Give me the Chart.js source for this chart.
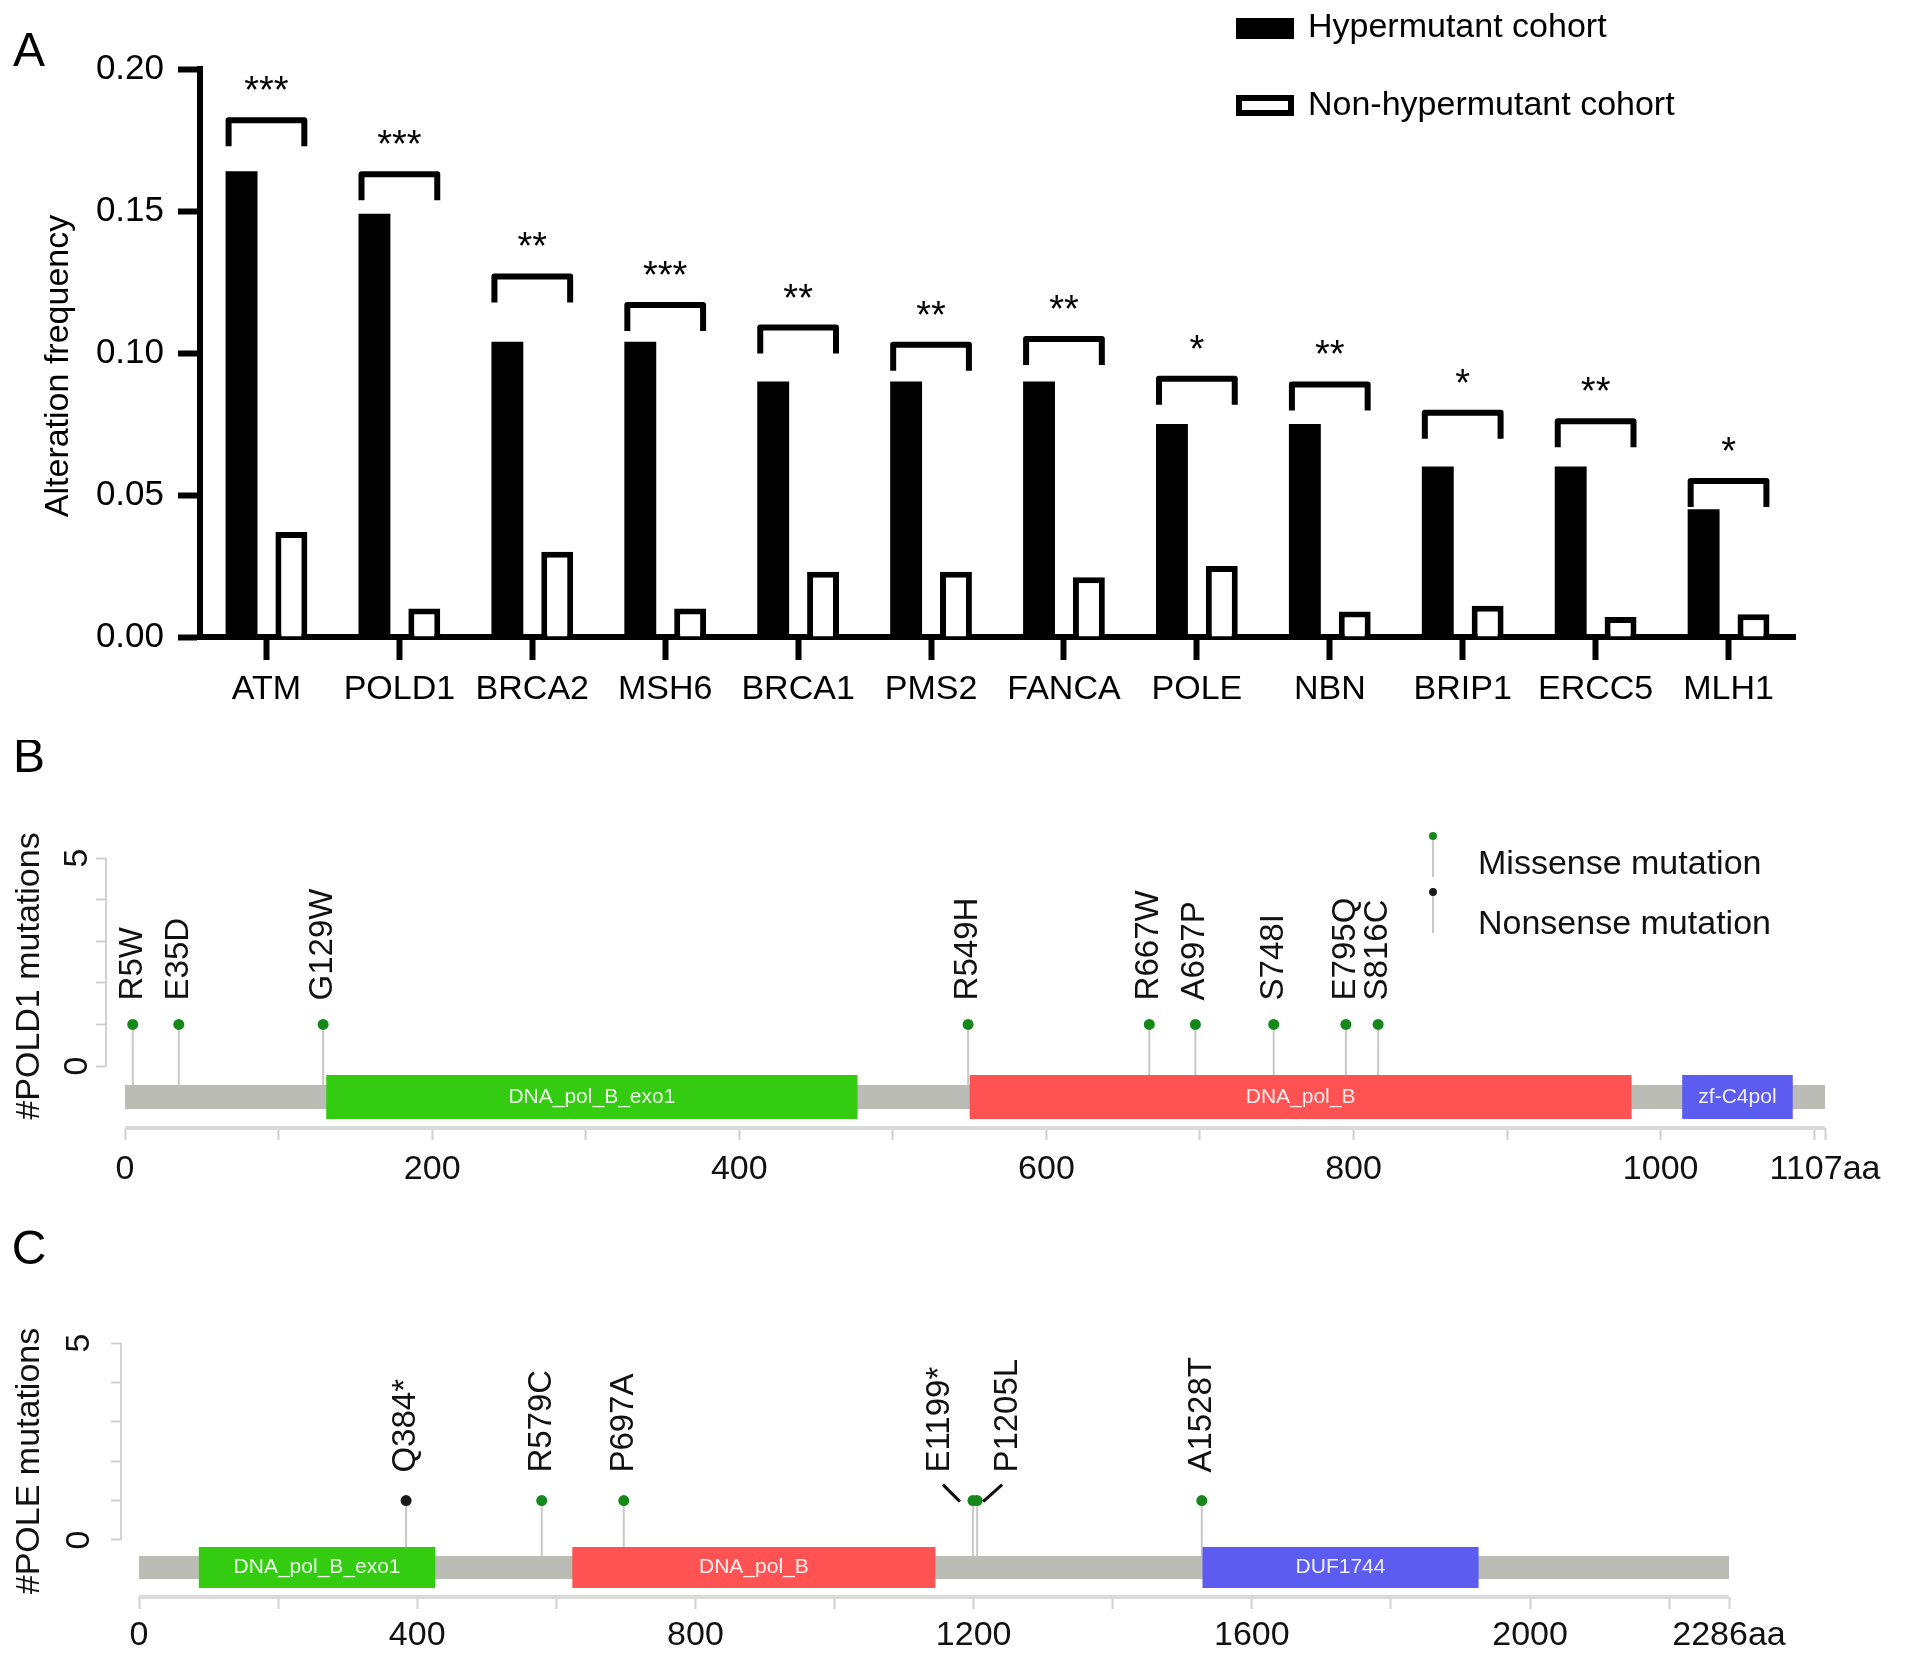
<!DOCTYPE html>
<html>
<head>
<meta charset="utf-8">
<script src="https://cdn.jsdelivr.net/npm/chart.js@4.4.0/dist/chart.umd.min.js"></script>
<style>
html,body{margin:0;padding:0;background:#fff;}
body{width:1913px;height:1660px;position:relative;overflow:hidden;}
.panel{position:absolute;left:0;width:1913px;}
</style>
</head>
<body>
<div class="panel" style="top:0;height:740px"><canvas id="cA"></canvas></div>
<div class="panel" style="top:740px;height:480px"><canvas id="cB"></canvas></div>
<div class="panel" style="top:1220px;height:440px"><canvas id="cC"></canvas></div>
<script>
// ---------- Panel A data ----------
const genes = ['ATM','POLD1','BRCA2','MSH6','BRCA1','PMS2','FANCA','POLE','NBN','BRIP1','ERCC5','MLH1'];
const hyperFreq = [0.164,0.149,0.104,0.104,0.090,0.090,0.090,0.075,0.075,0.060,0.060,0.045];
const nonHyperFreq = [0.037,0.010,0.030,0.010,0.023,0.023,0.021,0.025,0.009,0.011,0.007,0.008];
const sigLevel = ['***','***','**','***','**','**','**','*','**','*','**','*'];
const bracketHeight = [0.183,0.164,0.128,0.118,0.110,0.104,0.106,0.092,0.090,0.080,0.077,0.056];
const seriesNames = ['Hypermutant cohort','Non-hypermutant cohort'];
const yTitleA = 'Alteration frequency';

// ---------- Panel B data (POLD1) ----------
const pold1Length = 1107;
const pold1Mutations = ['R5W','E35D','G129W','R549H','R667W','A697P','S748I','E795Q','S816C'];
const pold1Positions = [5,35,129,549,667,697,748,795,816];
const pold1Counts = [1,1,1,1,1,1,1,1,1];
const pold1Types = ['missense','missense','missense','missense','missense','missense','missense','missense','missense'];
const pold1Domains = ['DNA_pol_B_exo1','DNA_pol_B','zf-C4pol'];
const pold1DomainStart = [131,550,1014];
const pold1DomainEnd = [477,981,1086];
const pold1XTicks = [0,100,200,300,400,500,600,700,800,900,1000,1100,1107];

// ---------- Panel C data (POLE) ----------
const poleLength = 2286;
const poleMutations = ['Q384*','R579C','P697A','E1199*','P1205L','A1528T'];
const polePositions = [384,579,697,1199,1205,1528];
const poleCounts = [1,1,1,1,1,1];
const poleTypes = ['nonsense','missense','missense','missense','missense','missense'];
const poleDomains = ['DNA_pol_B_exo1','DNA_pol_B','DUF1744'];
const poleDomainStart = [86,623,1529];
const poleDomainEnd = [426,1145,1926];
const poleXTicks = [0,200,400,600,800,1000,1200,1400,1600,1800,2000,2200,2286];

const yTicksLollipop = [0,1,2,3,4,5];

const FONT = '"Liberation Sans", Arial, Helvetica, sans-serif';
const typeColor = {missense:'#15881a', nonsense:'#1a1a1a'};
const domainColor = {'DNA_pol_B_exo1':'#33cc11','DNA_pol_B':'#ff5252','zf-C4pol':'#5c5cf0','DUF1744':'#5c5cf0'};

Chart.defaults.font.family = FONT;

function rotatedText(ctx, text, x, y){
  ctx.save();
  ctx.translate(x, y); ctx.rotate(-Math.PI/2);
  ctx.textAlign = 'center'; ctx.textBaseline = 'middle';
  ctx.fillText(text, 0, 0);
  ctx.restore();
}

// ---------- Panel A ----------
const panelAPlugin = {
  id:'panelA',
  afterDraw(chart){
    const {ctx, scales:{y:ys}} = chart;
    const m0 = chart.getDatasetMeta(0).data, m1 = chart.getDatasetMeta(1).data;
    ctx.save();
    ctx.strokeStyle = '#000'; ctx.fillStyle = '#000';
    ctx.lineWidth = 6; ctx.lineJoin = 'round'; ctx.lineCap = 'butt';
    genes.forEach((g,i)=>{
      const x1 = m0[i].x - m0[i].width/2 + 3;
      const x2 = m1[i].x + m1[i].width/2 - 3;
      const y = ys.getPixelForValue(bracketHeight[i]) + 3;
      ctx.beginPath();
      ctx.moveTo(x1, y+26); ctx.lineTo(x1, y); ctx.lineTo(x2, y); ctx.lineTo(x2, y+26);
      ctx.stroke();
      ctx.font = '38px ' + FONT;
      ctx.textAlign = 'center'; ctx.textBaseline = 'alphabetic';
      ctx.fillText(sigLevel[i], (x1+x2)/2, y - 17);
    });
    // y axis title
    ctx.font = '34px ' + FONT;
    rotatedText(ctx, yTitleA, 59, 366);
    // legend
    ctx.textAlign = 'left'; ctx.textBaseline = 'middle';
    ctx.fillRect(1236, 18, 58, 21);
    ctx.fillText(seriesNames[0], 1308, 28);
    ctx.lineWidth = 6; ctx.lineJoin = 'miter';
    ctx.strokeRect(1239, 98, 52, 15);
    ctx.fillText(seriesNames[1], 1308, 106);
    // panel letter
    ctx.font = '48px ' + FONT;
    ctx.textAlign = 'center';
    ctx.fillText('A', 29, 53);
    ctx.restore();
  }
};

new Chart(document.getElementById('cA'), {
  type:'bar',
  data:{
    labels: genes,
    datasets:[
      {label:seriesNames[0], data:hyperFreq, backgroundColor:'#000', borderWidth:0, categoryPercentage:0.75, barPercentage:0.64},
      {label:seriesNames[1], data:nonHyperFreq, backgroundColor:'#fff', borderColor:'#000', borderWidth:6, categoryPercentage:0.75, barPercentage:0.64}
    ]
  },
  options:{
    responsive:true, maintainAspectRatio:false, animation:false, devicePixelRatio:1, events:[],
    layout:{padding:{top:69, right:118, left:0, bottom:0}},
    plugins:{legend:{display:false}, tooltip:{enabled:false}},
    scales:{
      x:{
        z:1, offset:true,
        grid:{display:true, drawOnChartArea:false, drawTicks:true, tickLength:23, tickWidth:6, tickColor:'#000', offset:false},
        border:{display:true, width:6, color:'#000'},
        ticks:{font:{family:FONT, size:34}, color:'#000', padding:9, autoSkip:false, maxRotation:0, minRotation:0},
        afterFit(s){ s.height = 103; }
      },
      y:{
        min:0, max:0.2,
        ticks:{stepSize:0.05, callback:v=>Number(v).toFixed(2), font:{family:FONT, size:35}, color:'#000', padding:14},
        grid:{display:true, drawOnChartArea:false, drawTicks:true, tickLength:22, tickWidth:6, tickColor:'#000'},
        border:{display:true, width:6, color:'#000'},
        title:{display:false},
        afterFit(s){ s.width = 200; }
      }
    }
  },
  plugins:[panelAPlugin]
});

// ---------- Lollipop panels ----------
function lollipop(id, cfg){
  const pts = cfg.positions.map((p,i)=>({x:p, y:cfg.counts[i]}));
  const colors = cfg.types.map(t=>typeColor[t]);
  const plugin = {
    id:'lollipop_'+id,
    beforeDatasetsDraw(chart){
      const {ctx, chartArea:ca, scales:{x:xs, y:ys}} = chart;
      const y0 = ys.getPixelForValue(0);
      const xa = xs.getPixelForValue(0), xb = xs.getPixelForValue(cfg.length);
      ctx.save();
      ctx.strokeStyle = '#d2d2d2'; ctx.lineWidth = 2;
      ctx.beginPath();
      ctx.moveTo(ca.left, ys.getPixelForValue(0)); ctx.lineTo(ca.left, ys.getPixelForValue(5));
      ctx.stroke();
      ctx.strokeStyle = '#dadada'; ctx.lineWidth = 4;
      ctx.beginPath(); ctx.moveTo(xa, ca.bottom); ctx.lineTo(xb, ca.bottom); ctx.stroke();
      ctx.strokeStyle = '#c8c8c8'; ctx.lineWidth = 2;
      cfg.positions.forEach((p,i)=>{
        const x = xs.getPixelForValue(p);
        ctx.beginPath();
        ctx.moveTo(x, ys.getPixelForValue(cfg.counts[i]));
        ctx.lineTo(x, y0 + cfg.bar[0] + 1);
        ctx.stroke();
      });
      ctx.fillStyle = '#bcbcb6';
      ctx.fillRect(xa, y0 + cfg.bar[0], xb - xa, cfg.bar[1]);
      cfg.domains.forEach((d,i)=>{
        const x1 = xs.getPixelForValue(cfg.dStart[i]), x2 = xs.getPixelForValue(cfg.dEnd[i]);
        ctx.fillStyle = domainColor[d];
        ctx.fillRect(x1, y0 + cfg.dom[0], x2 - x1, cfg.dom[1]);
        ctx.fillStyle = 'rgba(255,255,255,0.9)';
        ctx.font = '21px ' + FONT;
        ctx.textAlign = 'center'; ctx.textBaseline = 'middle';
        ctx.fillText(d, (x1+x2)/2, y0 + cfg.dom[0] + cfg.dom[1]/2);
      });
      ctx.restore();
    },
    afterDatasetsDraw(chart){
      const {ctx, chartArea:ca, scales:{x:xs, y:ys}} = chart;
      ctx.save();
      ctx.fillStyle = '#111';
      ctx.font = '33px ' + FONT;
      cfg.names.forEach((n,i)=>{
        const x = xs.getPixelForValue(cfg.positions[i]) + (cfg.labelShift[i]||0);
        const y = ys.getPixelForValue(cfg.counts[i]) - cfg.labelGap;
        ctx.save();
        ctx.translate(x, y); ctx.rotate(-Math.PI/2);
        ctx.textAlign = 'left'; ctx.textBaseline = 'middle';
        ctx.fillText(n, 0, 0);
        ctx.restore();
      });
      ctx.strokeStyle = '#111'; ctx.lineWidth = 3;
      cfg.connectors.forEach(c=>{
        const x = xs.getPixelForValue(cfg.positions[c.i]);
        const y = ys.getPixelForValue(cfg.counts[c.i]);
        ctx.beginPath(); ctx.moveTo(x + c.a[0], y + c.a[1]); ctx.lineTo(x + c.b[0], y + c.b[1]); ctx.stroke();
      });
      // y tick labels (rotated) and title
      ctx.font = '34px ' + FONT;
      [0,5].forEach(v=> rotatedText(ctx, String(v), cfg.yLabelX, ys.getPixelForValue(v)));
      rotatedText(ctx, cfg.title, 30, cfg.titleY);
      if (cfg.legend){
        const L = cfg.legend;
        ctx.strokeStyle = '#c8c8c8'; ctx.lineWidth = 2;
        L.items.forEach(it=>{
          ctx.beginPath(); ctx.moveTo(L.x, it.dotY); ctx.lineTo(L.x, it.dotY + 41); ctx.stroke();
          ctx.fillStyle = typeColor[it.type];
          ctx.beginPath(); ctx.arc(L.x, it.dotY, 4, 0, Math.PI*2); ctx.fill();
          ctx.fillStyle = '#111';
          ctx.font = '34px ' + FONT; ctx.textAlign = 'left'; ctx.textBaseline = 'middle';
          ctx.fillText(it.text, L.textX, it.textY);
        });
      }
      ctx.fillStyle = '#000';
      ctx.font = '48px ' + FONT; ctx.textAlign = 'center'; ctx.textBaseline = 'middle';
      ctx.fillText(cfg.letter, 29, cfg.letterY);
      ctx.restore();
    }
  };
  return new Chart(document.getElementById(id), {
    type:'scatter',
    data:{datasets:[{data:pts, pointRadius:5.5, pointHoverRadius:5.5, pointBackgroundColor:colors, pointBorderWidth:0, showLine:false}]},
    options:{
      responsive:true, maintainAspectRatio:false, animation:false, devicePixelRatio:1, events:[],
      layout:{padding:{top:cfg.padTop, right:cfg.padRight, left:0, bottom:0}},
      plugins:{legend:{display:false}, tooltip:{enabled:false}},
      scales:{
        x:{
          type:'linear', min:cfg.xMin, max:cfg.length,
          afterBuildTicks(s){ s.ticks = cfg.xTicks.map(v=>({value:v})); },
          ticks:{
            autoSkip:false, maxRotation:0, minRotation:0, padding:cfg.xPad,
            font:{family:FONT, size:34}, color:'#111',
            callback:(v)=> v===cfg.length ? v+'aa' : ((v % cfg.labelStep === 0 && v <= cfg.length - 100) ? String(v) : '')
          },
          grid:{display:true, drawOnChartArea:false, drawTicks:true, tickLength:12, tickWidth:2, tickColor:'#d0d0d0', color:'#d0d0d0'},
          border:{display:false},
          afterFit(s){ s.height = cfg.xHeight; }
        },
        y:{
          min:cfg.yMin, max:5,
          afterBuildTicks(s){ s.ticks = yTicksLollipop.map(v=>({value:v})); },
          ticks:{callback:()=>'', padding:0, font:{family:FONT, size:34}},
          grid:{display:true, drawOnChartArea:false, drawTicks:true, tickLength:10, tickWidth:2, tickColor:'#d0d0d0', color:'#d0d0d0'},
          border:{display:false},
          title:{display:false},
          afterFit(s){ s.width = cfg.yWidth; }
        }
      }
    },
    plugins:[plugin]
  });
}

lollipop('cB', {
  length:pold1Length, names:pold1Mutations, positions:pold1Positions, counts:pold1Counts, types:pold1Types,
  domains:pold1Domains, dStart:pold1DomainStart, dEnd:pold1DomainEnd, xTicks:pold1XTicks, labelStep:200,
  title:'#POLD1 mutations', titleY:236, letter:'B', letterY:19,
  xMin:-12.4, yMin:-1.49, padTop:118, padRight:88, yWidth:106, xHeight:92, xPad:9,
  bar:[19,24], dom:[9,44], labelGap:24, labelShift:[], connectors:[], yLabelX:78,
  legend:{x:1433, textX:1478, items:[
    {type:'missense', dotY:96, text:'Missense mutation', textY:125},
    {type:'nonsense', dotY:152, text:'Nonsense mutation', textY:185}
  ]}
});

lollipop('cC', {
  length:poleLength, names:poleMutations, positions:polePositions, counts:poleCounts, types:poleTypes,
  domains:poleDomains, dStart:poleDomainStart, dEnd:poleDomainEnd, xTicks:poleXTicks, labelStep:400,
  title:'#POLE mutations', titleY:241, letter:'C', letterY:31,
  xMin:-25.9, yMin:-1.447, padTop:123, padRight:184, yWidth:121, xHeight:63, xPad:6,
  bar:[16,23], dom:[7,41], labelGap:28, labelShift:[0,0,0,-33,31,0],
  connectors:[{i:3, a:[-30,-16], b:[-13,1]}, {i:4, a:[25,-16], b:[6,1]}],
  yLabelX:80, legend:null
});
</script>
</body>
</html>
